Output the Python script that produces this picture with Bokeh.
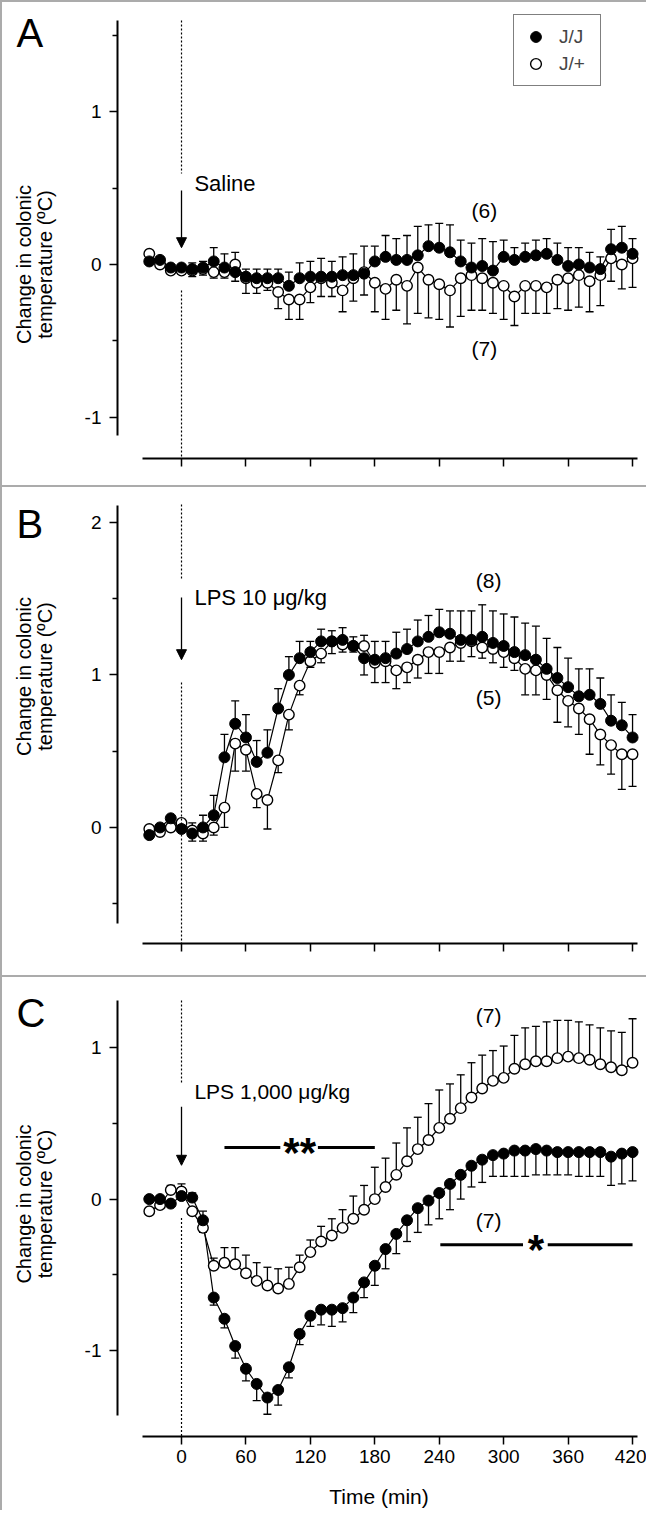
from bokeh.plotting import figure
from bokeh.models import Range1d, FixedTicker, Label, Arrow, NormalHead, Legend, LegendItem
from bokeh.layouts import column, row
from bokeh.embed import file_html
from bokeh.resources import INLINE

FONT = "Liberation Sans"

time_min = list(range(-30, 421, 10))
x_ticks = [0, 60, 120, 180, 240, 300, 360, 420]

# ---------------- Panel A : Saline ----------------
a_jj = [0.02, 0.03, -0.02, -0.02, -0.03, -0.02, 0.02, -0.02, -0.05, -0.08,
        -0.09, -0.09, -0.09, -0.14, -0.09, -0.08, -0.08, -0.08, -0.07, -0.07,
        -0.06, 0.02, 0.05, 0.03, 0.03, 0.06, 0.12, 0.11, 0.08, 0.02,
        -0.02, -0.01, -0.04, 0.05, 0.03, 0.05, 0.06, 0.07, 0.03, -0.01,
        0.00, -0.02, -0.03, 0.10, 0.11, 0.07]
a_jj_sem = [0.02, 0.02, 0.02, 0.02, 0.04, 0.04, 0.09, 0.09, 0.06, 0.05,
            0.06, 0.06, 0.06, 0.09, 0.10, 0.10, 0.12, 0.10, 0.12, 0.14,
            0.14, 0.10, 0.14, 0.14, 0.16, 0.19, 0.14, 0.16, 0.18, 0.14,
            0.16, 0.18, 0.19, 0.11, 0.08, 0.09, 0.10, 0.10, 0.11, 0.12,
            0.11, 0.10, 0.08, 0.13, 0.14, 0.10]
a_jp = [0.07, 0.00, -0.04, -0.04, -0.04, -0.03, -0.05, -0.05, 0.00, -0.09,
        -0.12, -0.12, -0.18, -0.23, -0.23, -0.15, -0.09, -0.12, -0.17, -0.09,
        -0.05, -0.12, -0.16, -0.10, -0.14, -0.02, -0.10, -0.13, -0.17, -0.09,
        -0.07, -0.09, -0.12, -0.14, -0.21, -0.14, -0.14, -0.15, -0.10, -0.09,
        -0.07, -0.11, -0.07, 0.04, 0.00, 0.04]
a_jp_sem = [0.02, 0.02, 0.02, 0.02, 0.04, 0.04, 0.04, 0.04, 0.08, 0.10,
            0.07, 0.05, 0.11, 0.13, 0.13, 0.10, 0.12, 0.09, 0.14, 0.15,
            0.17, 0.19, 0.20, 0.20, 0.25, 0.30, 0.25, 0.23, 0.24, 0.25,
            0.23, 0.21, 0.20, 0.22, 0.19, 0.18, 0.18, 0.17, 0.19, 0.21,
            0.21, 0.20, 0.20, 0.15, 0.16, 0.19]

# ---------------- Panel B : LPS 10 ug/kg ----------------
b_jj = [-0.05, 0.00, 0.06, -0.01, -0.04, 0.00, 0.08, 0.46, 0.68, 0.59,
        0.43, 0.49, 0.78, 1.00, 1.11, 1.15, 1.22, 1.22, 1.23, 1.19,
        1.11, 1.10, 1.11, 1.14, 1.17, 1.22, 1.25, 1.28, 1.27, 1.23,
        1.23, 1.25, 1.21, 1.19, 1.15, 1.13, 1.10, 1.04, 0.98, 0.92,
        0.86, 0.87, 0.81, 0.70, 0.67, 0.59]
b_jj_sem = [0.02, 0.02, 0.02, 0.02, 0.05, 0.08, 0.13, 0.15, 0.15, 0.15,
            0.14, 0.15, 0.13, 0.12, 0.11, 0.07, 0.08, 0.07, 0.08, 0.06,
            0.11, 0.12, 0.11, 0.14, 0.13, 0.14, 0.14, 0.15, 0.15, 0.19,
            0.19, 0.21, 0.21, 0.21, 0.23, 0.21, 0.22, 0.20, 0.20, 0.19,
            0.18, 0.17, 0.17, 0.17, 0.15, 0.15]
b_jp = [-0.01, -0.03, 0.00, 0.03, -0.02, -0.04, 0.00, 0.13, 0.55, 0.51,
        0.22, 0.18, 0.44, 0.74, 0.93, 1.09, 1.14, 1.22, 1.20, 1.19,
        1.19, 1.08, 1.09, 1.03, 1.05, 1.10, 1.15, 1.15, 1.18, 1.21,
        1.22, 1.18, 1.17, 1.15, 1.11, 1.04, 1.03, 1.00, 0.90, 0.83,
        0.78, 0.71, 0.61, 0.54, 0.48, 0.48]
b_jp_sem = [0.02, 0.02, 0.02, 0.02, 0.05, 0.05, 0.05, 0.13, 0.18, 0.14,
            0.09, 0.19, 0.08, 0.10, 0.06, 0.04, 0.06, 0.08, 0.05, 0.04,
            0.07, 0.13, 0.14, 0.12, 0.10, 0.12, 0.14, 0.14, 0.09, 0.12,
            0.10, 0.07, 0.09, 0.10, 0.08, 0.17, 0.16, 0.16, 0.21, 0.17,
            0.17, 0.23, 0.20, 0.19, 0.23, 0.21]

# ---------------- Panel C : LPS 1,000 ug/kg ----------------
c_jj = [0.00, 0.00, -0.03, 0.02, 0.01, -0.14, -0.65, -0.79, -0.97, -1.12,
        -1.22, -1.31, -1.26, -1.11, -0.89, -0.77, -0.73, -0.73, -0.72, -0.65,
        -0.55, -0.44, -0.33, -0.23, -0.14, -0.06, -0.01, 0.04, 0.10, 0.16,
        0.22, 0.26, 0.29, 0.30, 0.32, 0.32, 0.33, 0.32, 0.31, 0.31,
        0.31, 0.31, 0.31, 0.28, 0.30, 0.31]
c_jj_sem = [0.02, 0.02, 0.02, 0.02, 0.03, 0.06, 0.05, 0.06, 0.08, 0.08,
            0.11, 0.11, 0.10, 0.07, 0.07, 0.07, 0.10, 0.11, 0.09, 0.10,
            0.10, 0.13, 0.13, 0.13, 0.14, 0.16, 0.16, 0.17, 0.17, 0.16,
            0.14, 0.15, 0.14, 0.15, 0.17, 0.17, 0.17, 0.16, 0.15, 0.15,
            0.16, 0.16, 0.16, 0.19, 0.20, 0.19]
c_jp = [-0.08, -0.04, 0.06, 0.05, -0.08, -0.19, -0.44, -0.42, -0.43, -0.49,
        -0.54, -0.57, -0.59, -0.56, -0.45, -0.35, -0.28, -0.24, -0.19, -0.13,
        -0.07, 0.00, 0.08, 0.16, 0.25, 0.33, 0.39, 0.47, 0.53, 0.60,
        0.67, 0.73, 0.78, 0.80, 0.86, 0.89, 0.91, 0.91, 0.93, 0.94,
        0.93, 0.92, 0.89, 0.87, 0.85, 0.90]
c_jp_sem = [0.02, 0.02, 0.03, 0.05, 0.02, 0.03, 0.05, 0.10, 0.11, 0.12,
            0.12, 0.12, 0.13, 0.11, 0.08, 0.08, 0.10, 0.11, 0.12, 0.15,
            0.16, 0.21, 0.19, 0.21, 0.22, 0.21, 0.24, 0.25, 0.23, 0.22,
            0.23, 0.22, 0.20, 0.21, 0.22, 0.24, 0.23, 0.26, 0.25, 0.24,
            0.24, 0.23, 0.24, 0.24, 0.25, 0.29]

X_RANGE = (-59.6, 427.4)
X_BOUNDS = (-36, 425)
SIDE_W = 60
MAIN_W = 584


def style_fig(f):
    f.grid.visible = False
    f.outline_line_color = None
    f.background_fill_color = "white"
    f.border_fill_color = "white"


def make_panel(height, y_range, ybounds, major, minor, border_top, border_bottom, xlabels):
    p = figure(width=MAIN_W, height=height, output_backend="svg", toolbar_location=None,
               x_range=Range1d(*X_RANGE), y_range=y_range,
               min_border_left=55, min_border_right=6, min_border_top=border_top,
               min_border_bottom=border_bottom)
    style_fig(p)
    xa, ya = p.xaxis[0], p.yaxis[0]
    xa.ticker = FixedTicker(ticks=x_ticks, minor_ticks=[])
    xa.bounds = X_BOUNDS
    ya.ticker = FixedTicker(ticks=major, minor_ticks=minor)
    ya.bounds = ybounds
    for ax in (xa, ya):
        ax.axis_line_width = 2
        ax.axis_line_color = "black"
        ax.major_tick_line_width = 1.5
        ax.minor_tick_line_width = 1.5
        ax.major_tick_line_color = "black"
        ax.minor_tick_line_color = "black"
        ax.major_tick_in = 0
        ax.major_tick_out = 8
        ax.minor_tick_in = 0
        ax.minor_tick_out = 5
        ax.major_label_text_font = FONT
        ax.major_label_text_font_size = "19px"
        ax.major_label_text_color = "black"
    ya.major_label_standoff = 8
    ya.major_label_overrides = {v: str(v) for v in major}
    xa.major_label_standoff = 5
    if xlabels:
        xa.major_label_overrides = {v: str(v) for v in x_ticks}
    else:
        xa.major_label_overrides = {v: "" for v in x_ticks}
    return p


def make_side(height, y_range, border_top, border_bottom):
    # narrow strip left of each panel, sharing the panel's y scale,
    # that carries the panel letter and the two-line y-axis title
    s = figure(width=SIDE_W, height=height, output_backend="svg", toolbar_location=None,
               x_range=Range1d(2, 2 + SIDE_W), y_range=y_range,
               min_border_left=0, min_border_right=0, min_border_top=border_top,
               min_border_bottom=border_bottom, x_axis_type=None, y_axis_type=None)
    style_fig(s)
    return s


def draw_pair(p, jj, jj_sem, jp, jp_sem):
    for mean, sem, other, filled in ((jp, jp_sem, jj, False), (jj, jj_sem, jp, True)):
        ends = []
        for m, s, o in zip(mean, sem, other):
            up = (m >= o) if filled else (m > o)
            ends.append(m + s if up else m - s)
        p.segment(time_min, mean, time_min, ends, line_color="black", line_width=1.3)
        p.scatter(time_min, ends, marker="dash", size=8, line_color="black", line_width=1.3)
    for mean in (jp, jj):
        p.line(time_min, mean, line_color="black", line_width=1.2)
    r_open = p.scatter(time_min, jp, marker="circle", size=10.5, fill_color="white",
                       line_color="black", line_width=1.4)
    r_fill = p.scatter(time_min, jj, marker="circle", size=11, fill_color="black",
                       line_color="black", line_width=1)
    return r_fill, r_open


def txt(p, x, y, s, size="21px", align="left", baseline="middle", angle=0, style="normal"):
    p.add_layout(Label(x=x, y=y, text=s, text_font=FONT, text_font_size=size,
                       text_align=align, text_baseline=baseline, angle=angle,
                       angle_units="deg", text_font_style=style, text_color="black"))


def side_texts(s, letter, letter_mid, label_mid):
    txt(s, 16, letter_mid, letter, size="40px", baseline="middle")
    txt(s, 23, label_mid, "Change in colonic", size="20px", align="center", angle=90)
    txt(s, 44, label_mid, "temperature (ºC)", size="20px", align="center", angle=90)


def decorate(p, dot_segments, arrow, inj_text, inj_y, inj_size="21px"):
    for y0, y1 in dot_segments:
        p.segment([0], [y0], [0], [y1], line_color="black", line_width=1.2, line_dash="2 2")
    p.add_layout(Arrow(end=NormalHead(size=10, fill_color="black", line_color="black", line_width=1),
                       x_start=0, y_start=arrow[0], x_end=0, y_end=arrow[1],
                       line_width=1.3, line_color="black"))
    txt(p, 12, inj_y, inj_text, size=inj_size)


def panel_row(side, main):
    return row(side, main, spacing=0, styles={"background-color": "white"})


# ----- Panel A -----
yA = Range1d(-1.272, 1.639)
sA = make_side(483, yA, 12, 27)
side_texts(sA, "A", 1.518, 0.0)
pA = make_panel(483, yA, (-1.12, 1.60), [-1, 0, 1], [-0.5, 0.5, 1.5], 12, 27, False)
fA, oA = draw_pair(pA, a_jj, a_jj_sem, a_jp, a_jp_sem)
decorate(pA, [(1.60, 0.597), (-0.17, -1.272)], (0.485, 0.11), "Saline", 0.53, "22px")
txt(pA, 282, 0.354, "(6)", align="center")
txt(pA, 282, -0.55, "(7)", align="center")
legend = Legend(items=[LegendItem(label="J/J", renderers=[fA]),
                       LegendItem(label="J/+", renderers=[oA])],
                location=(396, 372), margin=0, padding=8, spacing=0,
                glyph_width=27, glyph_height=27, label_standoff=10,
                label_width=33, label_height=27,
                label_text_font=FONT, label_text_font_size="19px",
                label_text_baseline="middle",
                border_line_color="black", border_line_width=1.5,
                background_fill_color="white", background_fill_alpha=1.0)
pA.add_layout(legend)

# ----- Panel B -----
yB = Range1d(-0.761, 2.203)
sB = make_side(488, yB, 4, 32)
side_texts(sB, "B", 1.987, 0.99)
pB = make_panel(488, yB, (-0.63, 2.11), [0, 1, 2], [-0.5, 0.5, 1.5], 4, 32, False)
draw_pair(pB, b_jj, b_jj_sem, b_jp, b_jp_sem)
decorate(pB, [(2.118, 1.626), (0.951, -0.761)], (1.508, 1.10), "LPS 10 μg/kg", 1.508, "22px")
txt(pB, 286, 1.62, "(8)", align="center")
txt(pB, 286, 0.852, "(5)", align="center")

# ----- Panel C -----
yC = Range1d(-1.567, 1.436)
sC = make_side(533, yC, 4, 71)
side_texts(sC, "C", 1.226, -0.033)
pC = make_panel(533, yC, (-1.43, 1.31), [-1, 0, 1], [-0.5, 0.5], 4, 71, True)
draw_pair(pC, c_jj, c_jj_sem, c_jp, c_jp_sem)
decorate(pC, [(1.311, 0.767), (-0.125, -1.567)], (0.61, 0.223), "LPS 1,000 μg/kg", 0.708)
txt(pC, 286, 1.213, "(7)", align="center")
txt(pC, 286, -0.144, "(7)", align="center")
pC.segment([40, 127], [0.34, 0.34], [92, 180], [0.34, 0.34], line_color="black", line_width=3)
txt(pC, 110, 0.307, "**", size="42px", align="center", baseline="alphabetic", style="bold")
pC.segment([241, 341], [-0.302, -0.302], [318, 420], [-0.302, -0.302], line_color="black", line_width=3)
txt(pC, 330, -0.336, "*", size="42px", align="center", baseline="alphabetic", style="bold")
xa = pC.xaxis[0]
xa.axis_label = "Time (min)"
xa.axis_label_text_font = FONT
xa.axis_label_text_font_size = "21px"
xa.axis_label_text_font_style = "normal"
xa.axis_label_text_color = "black"
xa.axis_label_standoff = 19

layout = column(panel_row(sA, pA), panel_row(sB, pB), panel_row(sC, pC), spacing=2,
                styles={"background-color": "#ababab", "padding": "2px 0px 0px 2px"})

open("out.html", "w").write(file_html(layout, INLINE))
